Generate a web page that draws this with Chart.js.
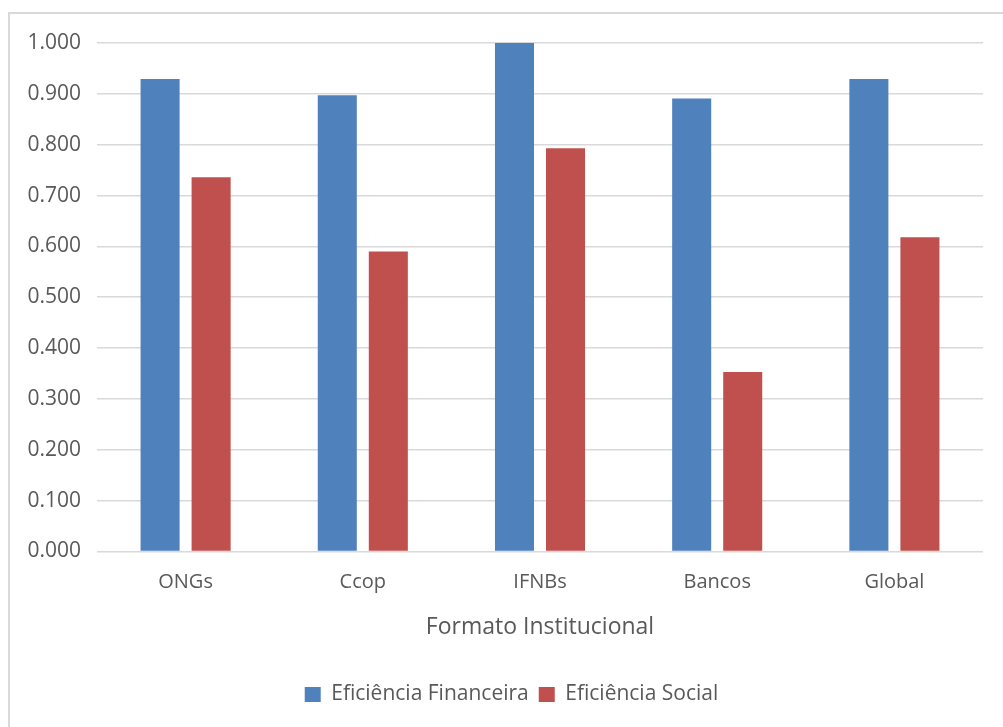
<!DOCTYPE html>
<html>
<head>
<meta charset="utf-8">
<script src="https://cdn.jsdelivr.net/npm/chart.js@4.4.1/dist/chart.umd.min.js"></script>
<style>
    html, body { margin: 0; padding: 0; background: #fff; }
    #frame {
        position: absolute; left: 8px; top: 12px;
        width: 1010px; height: 730px;
        border: 2px solid #d9d9d9; box-sizing: border-box;
    }
    #wrap { position: absolute; left: 0; top: 0; width: 1003px; height: 727px; }
</style>
</head>
<body>
<div id="frame"></div>
<div id="wrap"><canvas id="chart"></canvas></div>
<script>
// Data
const categories = ['ONGs', 'Ccop', 'IFNBs', 'Bancos', 'Global'];
const financeira = [0.929, 0.897, 1.000, 0.891, 0.929];
const social = [0.736, 0.590, 0.793, 0.353, 0.618];
const seriesNames = ['Eficiência Financeira', 'Eficiência Social'];
const axisTitle = 'Formato Institucional';

const textColor = '#595959';
const fontFamily = "'Open Sans', 'Noto Sans', sans-serif";

Chart.defaults.font.family = fontFamily;
Chart.defaults.color = textColor;

// nudge the legend so it sits centred like the original
const legendShift = {
    id: 'legendShift',
    afterLayout(chart) {
        if (chart.legend) {
            chart.legend.left += 20;
            chart.legend.right += 20;
        }
    }
};

const ctx = document.getElementById('chart').getContext('2d');

new Chart(ctx, {
    type: 'bar',
    data: {
        labels: categories,
        datasets: [{
            label: seriesNames[0],
            data: financeira,
            backgroundColor: '#4f81bd',
            categoryPercentage: 0.576,
            barPercentage: 0.765
        }, {
            label: seriesNames[1],
            data: social,
            backgroundColor: '#c0504d',
            categoryPercentage: 0.576,
            barPercentage: 0.765
        }]
    },
    options: {
        responsive: true,
        maintainAspectRatio: false,
        animation: false,
        layout: {
            padding: { left: 0, right: 20, top: 43, bottom: 12 }
        },
        plugins: {
            legend: {
                position: 'bottom',
                labels: {
                    boxWidth: 16,
                    boxHeight: 15,
                    padding: 10,
                    color: textColor,
                    font: { size: 21 }
                }
            },
            tooltip: { enabled: false }
        },
        scales: {
            y: {
                min: 0,
                max: 1,
                ticks: {
                    stepSize: 0.1,
                    padding: 16,
                    color: textColor,
                    font: { size: 21 },
                    callback: v => v.toFixed(3)
                },
                grid: {
                    color: '#d9d9d9',
                    lineWidth: 1.5,
                    drawTicks: false
                },
                border: { display: false },
                afterFit: scale => { scale.width = 97; }
            },
            x: {
                ticks: {
                    padding: 19,
                    color: textColor,
                    font: { size: 20 }
                },
                grid: { display: false, drawTicks: false },
                border: { display: false },
                title: {
                    display: true,
                    text: axisTitle,
                    color: textColor,
                    font: { size: 23 },
                    padding: { top: 0, bottom: 33 }
                }
            }
        }
    },
    plugins: [legendShift]
});
</script>
</body>
</html>
